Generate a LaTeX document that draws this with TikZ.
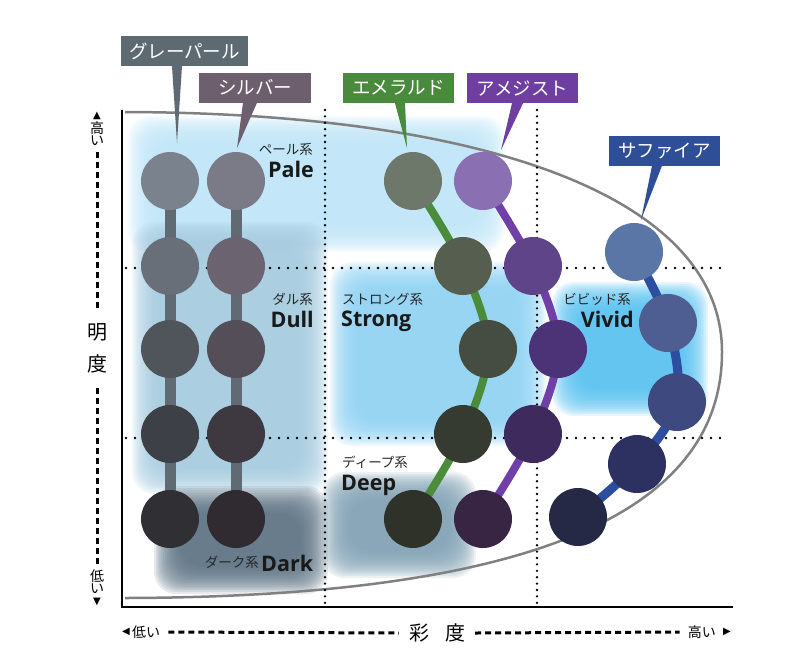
\documentclass[tikz,border=0pt]{standalone}
\usepackage{fontspec}
\setmainfont{Noto Sans CJK JP}
\newfontfamily\latfont{Open Sans}
\newfontfamily\symfont{DejaVu Sans}
\usetikzlibrary{calc}
\definecolor{grayLab}{HTML}{5E6A72}
\definecolor{silverLab}{HTML}{6E5F6E}
\definecolor{emeraldLab}{HTML}{4A8A3C}
\definecolor{amethystLab}{HTML}{6E3FA0}
\definecolor{sapphireLab}{HTML}{2F4E98}
\definecolor{grayLine}{HTML}{5F6A72}
\definecolor{emLine}{HTML}{4B8C3A}
\definecolor{amLine}{HTML}{7040A8}
\definecolor{saLine}{HTML}{2C4DA0}
\definecolor{paleBg}{HTML}{BDE4F7}
\definecolor{dullBg}{HTML}{A3C9DE}
\definecolor{strongBg}{HTML}{8DD1F2}
\definecolor{vividBg}{HTML}{55C0F0}
\definecolor{deepBg}{HTML}{7E9FB2}
\definecolor{darkBg}{HTML}{5A7081}
\definecolor{curveGray}{HTML}{808080}
\newcommand\softbox[5]{%
  \foreach \k in {0,...,15}{%
    \fill[#5, opacity=0.14, rounded corners=22] (#1+\k*1.8,#2+\k*1.8) rectangle (#3-\k*1.8,#4-\k*1.8);
  }%
}
\tikzset{
  swatch/.style={circle, minimum size=58, inner sep=0, fill=#1},
  labbox/.style={fill=#1, text=white, minimum height=30, inner xsep=0, inner ysep=0,
    font=\fontsize{18.5}{20}\selectfont},
  dotv/.style={line width=2.6, dash pattern=on 0pt off 6.4pt, line cap=round},
  doth/.style={line width=2.6, dash pattern=on 0pt off 9pt, line cap=round},
  axdash/.style={line width=3, dash pattern=on 6pt off 4pt},
  jpsmall/.style={inner sep=0, font=\fontsize{13.5}{15}\selectfont, text=black!85},
  latbig/.style={inner sep=0, font=\latfont\bfseries\fontsize{21.5}{24}\selectfont, text=black!90},
  axtxt/.style={inner sep=0, font=\fontsize{14}{15}\selectfont},
  axbig/.style={inner sep=0, font=\fontsize{20}{22}\selectfont},
  axsym/.style={inner sep=0, font=\symfont\fontsize{10}{11}\selectfont},
}
\begin{document}
\begin{tikzpicture}[x=1pt,y=-1pt]
\useasboundingbox (0,0) rectangle (802,662);
% background zones
\softbox{128}{116}{505}{252}{paleBg}
\softbox{132}{222}{328}{494}{dullBg}
\softbox{330}{262}{546}{446}{strongBg}
\softbox{552}{282}{708}{416}{vividBg}
\softbox{322}{472}{476}{578}{deepBg}
\softbox{154}{486}{328}{594}{darkBg}
% boundary curve
\draw[curveGray, line width=2.5] (125,112) .. controls (480,113) and (722,195) .. (722,352)
  .. controls (722,525) and (500,597) .. (125,598);
% grid dotted lines
\coordinate (v1t) at (325,110); \coordinate (v1b) at (325,607);
\coordinate (v2t) at (537,110); \coordinate (v2b) at (537,607);
\coordinate (h1l) at (126,268); \coordinate (h1r) at (726,268);
\coordinate (h2l) at (126,438); \coordinate (h2r) at (726,438);
\draw[dotv] (v1t) -- (v1b);
\draw[dotv] (v2t) -- (v2b);
\draw[doth] (h1l) -- (h1r);
\draw[doth] (h2l) -- (h2r);
% axes
\coordinate (axtop) at (122,110);
\coordinate (axcorner) at (122,607);
\coordinate (axright) at (733,607);
\draw[line width=2.6] (axtop) -- (axcorner) -- (axright);
% vertical axis labels
\node[axsym] (vup) at (97,115.5) {▲};
\node[axtxt] (vhi1) at (97,128) {高};
\node[axtxt] (vhi2) at (97,141) {い};
\node[axbig] (vm1) at (97,332) {明};
\node[axbig] (vm2) at (97,364) {度};
\node[axtxt] (vlo1) at (97,576) {低};
\node[axtxt] (vlo2) at (97,589) {い};
\node[axsym] (vdn) at (97,602) {▼};
\coordinate (vd1) at (97,152);
\coordinate (vd2) at (97,308);
\coordinate (vd3) at (97,388);
\coordinate (vd4) at (97,565);
\draw[axdash] (vd1) -- (vd2);
\draw[axdash] (vd3) -- (vd4);
% horizontal axis labels
\node[axsym] (hl) at (126,632) {◀};
\node[axtxt, anchor=west] (hlo) at (132,632) {低い};
\node[axbig] (hs1) at (419,633) {彩};
\node[axbig] (hs2) at (455,633) {度};
\node[axtxt, anchor=east] (hhi) at (716,632) {高い};
\node[axsym] (hr) at (727,632) {▶};
\draw[axdash] ($(hlo.east)+(8,0)$) -- ($(hs1.west)+(-10,0)$);
\draw[axdash] ($(hs2.east)+(10,0)$) -- ($(hhi.west)+(-8,0)$);
% swatch positions
\foreach \n/\y in {1/181,2/266,3/349,4/434,5/519}{
  \coordinate (g\n) at (170,\y);
  \coordinate (s\n) at (236,\y);
}
\coordinate (e1) at (413,181); \coordinate (e2) at (463,266); \coordinate (e3) at (488,349);
\coordinate (e4) at (463,434); \coordinate (e5) at (413,519);
\coordinate (a1) at (483,181); \coordinate (a2) at (533,266); \coordinate (a3) at (558,349);
\coordinate (a4) at (533,434); \coordinate (a5) at (483,519);
\coordinate (p1) at (634,252); \coordinate (p2) at (668,323); \coordinate (p3) at (677,402);
\coordinate (p4) at (637,464); \coordinate (p5) at (578,517);
% connectors
\draw[grayLine, line width=11] (g1) -- (g5);
\draw[grayLine, line width=11] (s1) -- (s5);
\draw[emLine, line width=8] plot[smooth, tension=0.55] coordinates {(e1) (e2) (e3) (e4) (e5)};
\draw[amLine, line width=8] plot[smooth, tension=0.55] coordinates {(a1) (a2) (a3) (a4) (a5)};
\draw[saLine, line width=9] plot[smooth, tension=0.55] coordinates {(p1) (p2) (p3) (p4) (p5)};
% swatches
\foreach \n/\c in {1/7A828D,2/686F79,3/50555C,4/3D4046,5/2F2F34}{
  \definecolor{tmpc}{HTML}{\c}\node[swatch=tmpc] (G\n) at (g\n) {};}
\foreach \n/\c in {1/7B7B88,2/6B6470,3/534E58,4/3E3941,5/302A31}{
  \definecolor{tmpc}{HTML}{\c}\node[swatch=tmpc] (S\n) at (s\n) {};}
\foreach \n/\c in {1/6E786A,2/565E50,3/454C41,4/363B32,5/2F3229}{
  \definecolor{tmpc}{HTML}{\c}\node[swatch=tmpc] (E\n) at (e\n) {};}
\foreach \n/\c in {1/8A6FB2,2/5F4489,3/4C3277,4/3F2A5E,5/382543}{
  \definecolor{tmpc}{HTML}{\c}\node[swatch=tmpc] (A\n) at (a\n) {};}
\foreach \n/\c in {1/5A76A6,2/4E5E92,3/3E4980,4/2C3162,5/262946}{
  \definecolor{tmpc}{HTML}{\c}\node[swatch=tmpc] (P\n) at (p\n) {};}
% zone labels
\node[jpsmall, anchor=base east] (tpale) at (313,154.5) {ペール系};
\node[latbig, anchor=base east] (lpale) at (314,177) {Pale};
\node[jpsmall, anchor=base east] (tdull) at (313,304) {ダル系};
\node[latbig, anchor=base east] (ldull) at (314,327) {Dull};
\node[jpsmall, anchor=base west] (tstrong) at (342,304) {ストロング系};
\node[latbig, anchor=base west] (lstrong) at (341,326) {Strong};
\node[jpsmall, anchor=base east] (tvivid) at (631,304) {ビビッド系};
\node[latbig, anchor=base east] (lvivid) at (634,327) {Vivid};
\node[jpsmall, anchor=base west] (tdeep) at (342,467) {ディープ系};
\node[latbig, anchor=base west] (ldeep) at (341,490) {Deep};
\node[jpsmall, anchor=base east] (tdark) at (259,567) {ダーク系};
\node[latbig, anchor=base west] (ldark) at (261,571) {Dark};
% callout labels
\coordinate (tipG) at (177,143);
\coordinate (tipS) at (237,148);
\coordinate (tipE) at (407,148);
\coordinate (tipA) at (501,150);
\coordinate (tipP) at (641,220);
\node[labbox=grayLab, minimum width=127] (LG) at (184.5,51) {グレーパール};
\node[labbox=silverLab, minimum width=112] (LS) at (255,87.5) {シルバー};
\node[labbox=emeraldLab, minimum width=111] (LE) at (398.5,88) {エメラルド};
\node[labbox=amethystLab, minimum width=111] (LA) at (522.5,88) {アメジスト};
\node[labbox=sapphireLab, minimum width=111] (LP) at (664.5,150.5) {サファイア};
\fill[grayLab] ($(LG.south)+(-12.5,0)$) -- (tipG) -- ($(LG.south)+(-2.5,0)$) -- cycle;
\fill[silverLab] ($(LS.south)+(-12,0)$) -- (tipS) -- ($(LS.south)+(2,0)$) -- cycle;
\fill[emeraldLab] ($(LE.south)+(-3.5,0)$) -- (tipE) -- ($(LE.south)+(6.5,0)$) -- cycle;
\fill[amethystLab] ($(LA.south)+(-10.5,0)$) -- (tipA) -- ($(LA.south)+(0.5,0)$) -- cycle;
\fill[sapphireLab] ($(LP.south)+(-12.5,0)$) -- (tipP) -- ($(LP.south)+(-2.5,0)$) -- cycle;
\end{tikzpicture}
\end{document}
